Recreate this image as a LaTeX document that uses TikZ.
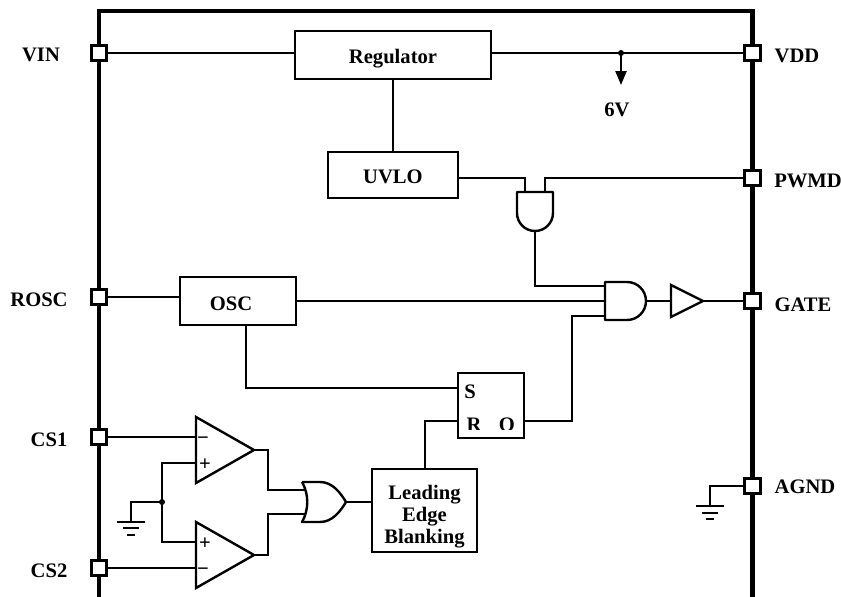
\documentclass[tikz,border=0pt]{standalone}
\usepackage{fontspec}
\setmainfont{Liberation Serif}
\usetikzlibrary{arrows.meta,shapes.geometric}

\tikzset{
    wire/.style={line width=2.4pt},
    gatebody/.style={line width=2.4pt, line join=round},
    blockbox/.style={draw, line width=2.4pt, inner sep=0pt, outer sep=0pt, align=center, text height=16pt, text depth=0pt, font=\fontsize{20.6}{22}\selectfont\bfseries},
    pinbox/.style={draw, line width=3pt, fill=white, minimum size=15.5pt, inner sep=0pt},
    pinlabel/.style={anchor=base, inner sep=0pt, align=center, font=\fontsize{20.6}{22}\selectfont\bfseries},
    ampbox/.style={draw, line width=2.4pt, isosceles triangle, isosceles triangle stretches, inner sep=0pt, outer sep=0pt, anchor=lower side}
}

\begin{document}
\begin{tikzpicture}[x=1pt, y=-1pt]
    \useasboundingbox (0,0) rectangle (841,597);

    % Chip outline
    \draw[line width=4.5pt] (99,597) -- (99,11) -- (752.5,11) -- (752.5,597);

    % Pins
    \node[pinbox] (vin)  at (99,53) {};
    \node[pinbox] (rosc) at (99,297) {};
    \node[pinbox] (csa)  at (99,437) {};
    \node[pinbox] (csb)  at (99,568) {};
    \node[pinbox] (vdd)  at (752.5,53) {};
    \node[pinbox] (pwmd) at (752.5,178) {};
    \node[pinbox] (gate) at (752.5,301) {};
    \node[pinbox] (agnd) at (752.5,486) {};

    % Pin labels
    \node[pinlabel] (lvin)  at (41,61) {VIN};
    \node[pinlabel] (lrosc) at (39,306) {ROSC};
    \node[pinlabel] (lcsa)  at (49,446) {CS1};
    \node[pinlabel] (lcsb)  at (49,577) {CS2};
    \node[pinlabel] (lvdd)  at (797,62) {VDD};
    \node[pinlabel] (lpwmd) at (808,187) {PWMD};
    \node[pinlabel] (lgate) at (803,311) {GATE};
    \node[pinlabel] (lagnd) at (805,493) {AGND};

    % Blocks
    \node[blockbox, minimum width=196pt, minimum height=48pt] (reg) at (393,55) {Regulator};
    \node[blockbox, minimum width=130pt, minimum height=46pt] (uvlo) at (393,175) {UVLO};
    \node[blockbox, minimum width=116pt, minimum height=48pt] (osc) at (238,301) {};
    \node[blockbox, minimum width=66pt, minimum height=65pt] (latch) at (491,405.5) {};
    \node[blockbox, minimum width=105pt, minimum height=83pt] (leb) at (424.5,510.5) {};

    % Block texts
    \node[pinlabel] (tosc) at (231,310) {OSC};
    \node[pinlabel] (tleb) at (424.5,543) {Leading\\Edge\\Blanking};
    \node[pinlabel] (ls) at (470,398) {S};
    \begin{scope}
        \clip (462,410) rectangle (520,429.5);
        \node[pinlabel] (lr) at (474,431) {R};
        \node[pinlabel] (lo) at (507,431) {O};
    \end{scope}
    \coordinate (latchs) at (458,388);
    \coordinate (latchr) at (458,421);
    \coordinate (latchq) at (524,421);

    % Gates
    \draw[gatebody] (605,282) -- (627,282) arc (-90:90:19) -- (605,320) -- cycle;
    \draw[gatebody] (517,192) -- (553,192) -- (553,213) arc (0:180:18) -- cycle;
    \draw[gatebody] (302,482) -- (320,482) .. controls (332,482) and (340,492) .. (346,502)
        .. controls (340,512) and (332,522) .. (320,522) -- (302,522)
        .. controls (309,510) and (309,494) .. (302,482);
    \coordinate (andouta) at (605,286);
    \coordinate (andoutb) at (605,301);
    \coordinate (andoutc) at (605,316);
    \coordinate (andoutq) at (646,301);
    \coordinate (andena) at (525,192);
    \coordinate (andenb) at (545,192);
    \coordinate (andenq) at (535,231);
    \coordinate (orcsa) at (306,490);
    \coordinate (orcsb) at (306,514);
    \coordinate (orcsq) at (346,502);

    % Buffer and comparators
    \node[ampbox, minimum height=32pt, minimum width=32pt] (buf) at (671,301) {};
    \node[ampbox, minimum height=58pt, minimum width=66pt] (cmpa) at (196,450) {};
    \node[ampbox, minimum height=58pt, minimum width=66pt] (cmpb) at (196,555) {};

    % Comparator inputs
    \coordinate (cmpam) at (196,437);
    \coordinate (cmpap) at (196,463);
    \coordinate (cmpbp) at (196,542);
    \coordinate (cmpbm) at (196,568);
    \node[pinlabel] (ama) at (203,444.5) {−};
    \node[pinlabel] (apa) at (205,470) {+};
    \node[pinlabel] (apb) at (205,549) {+};
    \node[pinlabel] (amb) at (203,575.5) {−};

    % Junctions
    \coordinate (jvdd) at (621,53);
    \coordinate (tsix) at (621,85);
    \coordinate (jref) at (162,502);
    \coordinate (gnda) at (131,522);
    \coordinate (gndb) at (710,506);
    \fill (jvdd) circle (3pt);
    \fill (jref) circle (3pt);

    % Top rail
    \draw[wire] (vin) -- (vin -| reg.west);
    \draw[wire] (vdd -| reg.east) -- (vdd);
    \draw[wire] (reg) -- (uvlo);
    \draw[wire, -{Triangle[length=14pt,width=11pt]}] (jvdd) -- (tsix);
    \node[pinlabel] (lsix) at (617,116) {6V};

    % Enable gate
    \draw[wire] (uvlo.east |- pwmd) -| (andena);
    \draw[wire] (pwmd) -| (andenb);
    \draw[wire] (andenq) |- (andouta);

    % Oscillator
    \draw[wire] (rosc) -- (rosc -| osc.west);
    \draw[wire] (osc.east |- andoutb) -- (andoutb);
    \draw[wire] (osc.south -| 246,0) |- (latchs);

    % Gate driver
    \draw[wire] (latchq) -| (andoutc -| 572,0) -- (andoutc);
    \draw[wire] (andoutq) -- (buf.lower side);
    \draw[wire] (buf.apex) -- (gate);

    % Comparators
    \draw[wire] (csa) -- (cmpam);
    \draw[wire] (csb) -- (cmpbm);
    \draw[wire] (cmpap) -- (162,463) -- (162,542) -- (cmpbp);
    \draw[wire] (jref) -| (gnda);
    \draw[wire] (cmpa.apex) -- (268,450) |- (orcsa);
    \draw[wire] (cmpb.apex) -- (268,555) |- (orcsb);
    \draw[wire] (orcsq) -- (leb.west |- orcsq);
    \draw[wire] (leb.north -| 425,0) |- (latchr);

    % Ground symbols
    \draw[wire] (117,522) -- (145,522) (123,528) -- (139,528) (127,535) -- (135,535);
    \draw[wire] (agnd) -| (gndb);
    \draw[wire] (696,506) -- (724,506) (702,513) -- (718,513) (706,519) -- (714,519);

\end{tikzpicture}
\end{document}
